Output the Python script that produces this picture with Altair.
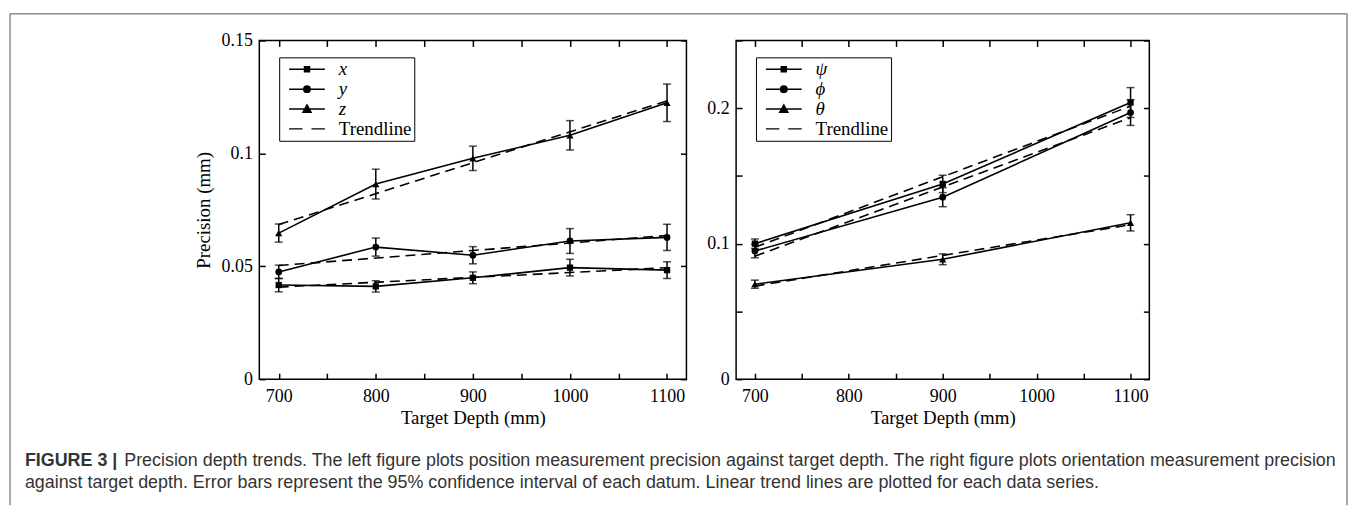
import altair as alt
import pandas as pd

# ---------------- data ----------------
depth_left = [700, 800, 900, 1000, 1100]
prec_x = [0.0417, 0.0411, 0.0449, 0.0494, 0.0483]
err_x = [0.0030, 0.0025, 0.0026, 0.0037, 0.0037]
prec_y = [0.0475, 0.0585, 0.0549, 0.0612, 0.0628]
err_y = [0.0030, 0.0040, 0.0038, 0.0055, 0.0058]
prec_z = [0.0647, 0.0864, 0.0978, 0.1080, 0.1224]
err_z = [0.0040, 0.0066, 0.0054, 0.0065, 0.0083]

depth_right = [700, 900, 1100]
prec_psi = [0.1000, 0.1441, 0.2042]
err_psi = [0.0035, 0.0064, 0.0110]
prec_phi = [0.0946, 0.1343, 0.1968]
err_phi = [0.0050, 0.0070, 0.0095]
prec_theta = [0.0701, 0.0885, 0.1154]
err_theta = [0.0030, 0.0040, 0.0060]

series_left = ["x", "y", "z"]
series_right = ["ψ", "ϕ", "θ"]
trend_label = "Trendline"

x_tick_values = [700, 750, 800, 850, 900, 950, 1000, 1050, 1100]
y_tick_values_left = [0, 0.05, 0.1, 0.15]
y_tick_values_right = [0, 0.05, 0.1, 0.15, 0.2, 0.25]

x_title = "Target Depth (mm)"
y_title = "Precision (mm)"
caption_bold = "FIGURE 3 |"
caption_line1 = ("Precision depth trends. The left figure plots position measurement precision "
                 "against target depth. The right figure plots orientation measurement precision")
caption_line2 = ("against target depth. Error bars represent the 95% confidence interval of each datum. "
                 "Linear trend lines are plotted for each data series.")

# ---------------- styling ----------------
SERIF = "Liberation Serif"
SANS = "Liberation Sans"
INWARD = {"expr": "-6"}

marker_shapes = ["square", "circle", "triangle-up"]
marker_sizes = [40, 52, 70]
legend_paths = [
    "M-2,0H2M-0.28,-0.28H0.28V0.28H-0.28Z",
    "M-2,0H2M-0.36,0A0.36,0.36,0,1,0,0.36,0A0.36,0.36,0,1,0,-0.36,0Z",
    "M-2,0H2M0,-0.45L0.45,0.35L-0.45,0.35Z",
    "M-2,0H-0.5M0.5,0H2",
]


def long_table(depths, names, vals, errs):
    rows = []
    for n, v, e in zip(names, vals, errs):
        for d, vv, ee in zip(depths, v, e):
            rows.append({"depth": d, "value": vv, "err": ee, "series": n})
    return pd.DataFrame(rows)


def axis_common(**kw):
    base = dict(
        tickSize=INWARD, tickColor="black", tickWidth=1.5, domain=False, grid=False,
        labelFont=SERIF, labelFontSize=18, labelColor="black",
        titleFont=SERIF, titleFontSize=19, titleFontWeight="normal", titleColor="black",
    )
    base.update(kw)
    return alt.Axis(**base)


def panel(df, names, y_domain, y_ticks, y_label_expr, width, show_ytitle):
    legend_labels = names + [trend_label]
    xs = alt.Scale(domain=[680, 1120], nice=False, zero=False)
    ys = alt.Scale(domain=y_domain, nice=False, zero=False)
    x_axis = axis_common(values=x_tick_values, format="d", orient="bottom",
                         labelExpr="datum.value % 100 == 0 ? datum.label : ''",
                         labelPadding=14, title=x_title, titlePadding=4)
    y_kw = dict(values=y_ticks, format=".2~f", orient="left", labelExpr=y_label_expr,
                labelPadding=13)
    if show_ytitle:
        y_kw.update(title=y_title, titlePadding=8)
    else:
        y_kw.update(title=None)
    y_axis = axis_common(**y_kw)

    X = alt.X("depth:Q", scale=xs, axis=x_axis)
    Y = alt.Y("value:Q", scale=ys, axis=y_axis)
    base = alt.Chart(df)

    line = base.mark_line(color="black", strokeWidth=1.6).encode(x=X, y=Y, detail="series:N")
    trend = base.transform_regression(
        "depth", "value", groupby=["series"], extent=[700, 1100]
    ).mark_line(color="black", strokeWidth=1.6, strokeDash=[10, 6]).encode(
        x=X, y=Y, detail="series:N")
    eb = base.transform_calculate(lo="datum.value - datum.err", hi="datum.value + datum.err")
    rule = eb.mark_rule(color="black", strokeWidth=1.5).encode(
        x=X, y=alt.Y("lo:Q", scale=ys, axis=y_axis), y2="hi:Q")
    cap_lo = eb.mark_tick(orient="horizontal", size=8, thickness=1.5, color="black").encode(
        x=X, y=alt.Y("lo:Q", scale=ys, axis=y_axis))
    cap_hi = eb.mark_tick(orient="horizontal", size=8, thickness=1.5, color="black").encode(
        x=X, y=alt.Y("hi:Q", scale=ys, axis=y_axis))
    pts = base.mark_point(filled=True, color="black", opacity=1).encode(
        x=X, y=Y,
        shape=alt.Shape("series:N", scale=alt.Scale(domain=names, range=marker_shapes), legend=None),
        size=alt.Size("series:N", scale=alt.Scale(domain=names, range=marker_sizes), legend=None),
    )
    data_layers = alt.layer(trend, line, rule, cap_lo, cap_hi, pts)

    # legend + top/right tick axes (no visible data)
    leg_df = pd.DataFrame({"label": legend_labels, "depth": [700] * 4, "value": [y_domain[0]] * 4})
    leg = alt.Chart(leg_df).transform_filter("false").mark_point(
        size=324, filled=False, fill="black", stroke="black", strokeWidth=1.5, opacity=1
    ).encode(
        x=alt.X("depth:Q", scale=xs, axis=axis_common(values=x_tick_values, orient="top",
                                                      labels=False, title=None)),
        y=alt.Y("value:Q", scale=ys, axis=axis_common(values=y_ticks, orient="right",
                                                      labels=False, title=None)),
        shape=alt.Shape("label:N", scale=alt.Scale(domain=legend_labels, range=legend_paths),
                        legend=alt.Legend(
                            title=None, orient="none", legendX=20, legendY=17,
                            strokeColor="black", fillColor="white", padding=2,
                            symbolOffset=16, labelOffset=22, symbolSize=324,
                            symbolStrokeWidth=1.5, rowPadding=0,
                            labelFont=SERIF, labelFontSize=19, labelColor="black",
                            labelFontStyle={"expr": "datum.label == 'Trendline' ? 'normal' : 'italic'"},
                        )),
    )
    return alt.layer(data_layers, leg).resolve_scale(
        shape="independent", size="independent"
    ).resolve_axis(x="independent", y="independent").properties(width=width, height=341)


df_left = long_table(depth_left, series_left, [prec_x, prec_y, prec_z], [err_x, err_y, err_z])
df_right = long_table(depth_right, series_right, [prec_psi, prec_phi, prec_theta],
                      [err_psi, err_phi, err_theta])

left = panel(df_left, series_left, [0, 0.15], y_tick_values_left, "datum.label", 430, True)
right = panel(df_right, series_right, [0, 0.25], y_tick_values_right,
              "abs(datum.value * 10 - round(datum.value * 10)) < 1e-6 ? datum.label : ''",
              416, False)

# ---------------- caption + outer frame ----------------
CX = -236
CX_REST = -136
L1, L2 = 30, 53
CAP_SIZE = 18
t_bold = alt.Chart(pd.DataFrame({"t": [caption_bold]})).mark_text(
    font=SANS, fontSize=CAP_SIZE, fontWeight="bold", color="#333333",
    align="left", baseline="middle").encode(text="t:N", x=alt.value(CX), y=alt.value(L1))
t_l1 = alt.Chart(pd.DataFrame({"t": [caption_line1]})).mark_text(
    font=SANS, fontSize=CAP_SIZE, color="#333333", align="left", baseline="middle").encode(
    text="t:N", x=alt.value(CX_REST), y=alt.value(L1))
t_l2 = alt.Chart(pd.DataFrame({"t": [caption_line2]})).mark_text(
    font=SANS, fontSize=CAP_SIZE, color="#333333", align="left", baseline="middle").encode(
    text="t:N", x=alt.value(CX), y=alt.value(L2))

FL, FR, FT, FB = -251, 1095, -420, 75
fr = alt.Chart(pd.DataFrame({"k": [0]}))
f_left = fr.mark_rule(color="#8a8a8a", strokeWidth=1.5).encode(
    x=alt.value(FL), y=alt.value(FT), y2=alt.value(FB))
f_right = fr.mark_rule(color="#8a8a8a", strokeWidth=1.5).encode(
    x=alt.value(FR), y=alt.value(FT), y2=alt.value(FB))
f_top = fr.mark_rule(color="#8a8a8a", strokeWidth=1.5).encode(
    x=alt.value(FL), x2=alt.value(FR), y=alt.value(FT))

caption = alt.layer(f_left, f_right, f_top, t_bold, t_l1, t_l2).properties(
    width=430, height=60, view=alt.ViewBackground(stroke="transparent"))

chart = alt.concat(
    left, right, caption, columns=2, spacing={"row": 52, "column": 50},
    bounds="flush", align="each",
).properties(
    padding={"left": 0, "top": 2, "right": 0, "bottom": 0}
).configure_view(stroke="black", strokeWidth=1.5)

chart.save("out.html", embed_options={"renderer": "svg", "actions": False})
